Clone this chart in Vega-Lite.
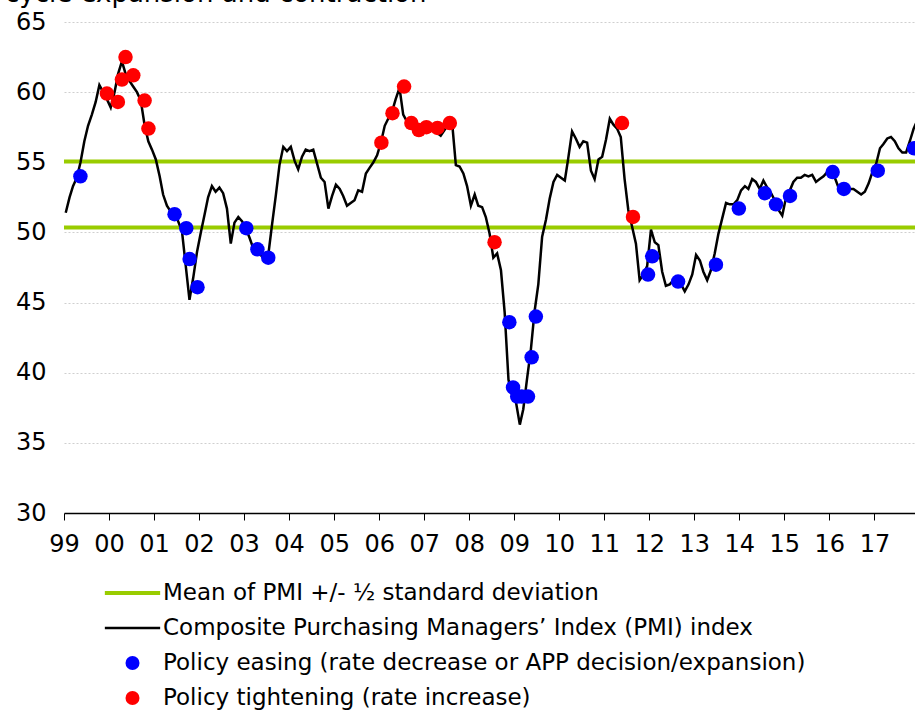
{
  "$schema": "https://vega.github.io/schema/vega-lite/v6.json",
  "width": 851,
  "height": 491,
  "autosize": "none",
  "padding": {"left": 64, "top": 22, "right": 0, "bottom": 197},
  "background": "white",
  "title": {"text": "cycle expansion and contraction", "anchor": "start", "frame": "group", "fontSize": 26, "fontWeight": "normal", "color": "black", "font": "DejaVu Sans", "dx": -59, "dy": 23, "offset": 5, "baseline": "alphabetic"},
  "datasets": {
    "bands": [{"v": 55.05}, {"v": 50.35}],
    "pmi": [
      {"d":"1999-01-15","v":51.4},{"d":"1999-02-15","v":52.5},{"d":"1999-03-15","v":53.3},{"d":"1999-04-15","v":53.9},{"d":"1999-05-15","v":55.0},{"d":"1999-06-15","v":56.5},{"d":"1999-07-15","v":57.6},{"d":"1999-08-15","v":58.4},{"d":"1999-09-15","v":59.3},{"d":"1999-10-15","v":60.5},{"d":"1999-11-15","v":60.0},{"d":"1999-12-15","v":59.5},
      {"d":"2000-01-15","v":58.9},{"d":"2000-02-15","v":60.0},{"d":"2000-03-15","v":61.3},{"d":"2000-04-15","v":62.2},{"d":"2000-05-15","v":61.3},{"d":"2000-06-15","v":60.8},{"d":"2000-07-15","v":60.4},{"d":"2000-08-15","v":60.0},{"d":"2000-09-15","v":59.4},{"d":"2000-10-15","v":57.7},{"d":"2000-11-15","v":56.5},{"d":"2000-12-15","v":55.9},
      {"d":"2001-01-15","v":55.2},{"d":"2001-02-15","v":54.0},{"d":"2001-03-15","v":52.7},{"d":"2001-04-15","v":51.9},{"d":"2001-05-15","v":51.5},{"d":"2001-06-15","v":51.3},{"d":"2001-07-15","v":50.8},{"d":"2001-08-15","v":50.1},{"d":"2001-09-15","v":47.6},{"d":"2001-10-15","v":45.2},{"d":"2001-11-15","v":46.8},{"d":"2001-12-15","v":48.6},
      {"d":"2002-01-15","v":50.0},{"d":"2002-02-15","v":51.3},{"d":"2002-03-15","v":52.5},{"d":"2002-04-15","v":53.3},{"d":"2002-05-15","v":52.9},{"d":"2002-06-15","v":53.2},{"d":"2002-07-15","v":52.8},{"d":"2002-08-15","v":51.7},{"d":"2002-09-15","v":49.2},{"d":"2002-10-15","v":50.7},{"d":"2002-11-15","v":51.1},{"d":"2002-12-15","v":50.8},
      {"d":"2003-01-15","v":50.3},{"d":"2003-02-15","v":49.6},{"d":"2003-03-15","v":48.9},{"d":"2003-04-15","v":48.6},{"d":"2003-05-15","v":48.4},{"d":"2003-06-15","v":48.1},{"d":"2003-07-15","v":48.3},{"d":"2003-08-15","v":50.5},{"d":"2003-09-15","v":52.6},{"d":"2003-10-15","v":54.8},{"d":"2003-11-15","v":56.1},{"d":"2003-12-15","v":55.8},
      {"d":"2004-01-15","v":56.1},{"d":"2004-02-15","v":55.1},{"d":"2004-03-15","v":54.5},{"d":"2004-04-15","v":55.4},{"d":"2004-05-15","v":55.9},{"d":"2004-06-15","v":55.8},{"d":"2004-07-15","v":55.9},{"d":"2004-08-15","v":54.9},{"d":"2004-09-15","v":53.9},{"d":"2004-10-15","v":53.6},{"d":"2004-11-15","v":51.7},{"d":"2004-12-15","v":52.6},
      {"d":"2005-01-15","v":53.4},{"d":"2005-02-15","v":53.1},{"d":"2005-03-15","v":52.6},{"d":"2005-04-15","v":51.9},{"d":"2005-05-15","v":52.1},{"d":"2005-06-15","v":52.3},{"d":"2005-07-15","v":53.0},{"d":"2005-08-15","v":52.9},{"d":"2005-09-15","v":54.2},{"d":"2005-10-15","v":54.6},{"d":"2005-11-15","v":55.0},{"d":"2005-12-15","v":55.5},
      {"d":"2006-01-15","v":56.4},{"d":"2006-02-15","v":57.6},{"d":"2006-03-15","v":58.1},{"d":"2006-04-15","v":58.6},{"d":"2006-05-15","v":59.5},{"d":"2006-06-15","v":60.3},{"d":"2006-07-15","v":58.4},{"d":"2006-08-15","v":57.9},{"d":"2006-09-15","v":57.5},{"d":"2006-10-15","v":57.3},{"d":"2006-11-15","v":57.2},{"d":"2006-12-15","v":57.3},
      {"d":"2007-01-15","v":57.4},{"d":"2007-02-15","v":57.4},{"d":"2007-03-15","v":57.3},{"d":"2007-04-15","v":57.1},{"d":"2007-05-15","v":56.9},{"d":"2007-06-15","v":57.3},{"d":"2007-07-15","v":57.7},{"d":"2007-08-15","v":57.9},{"d":"2007-09-15","v":54.8},{"d":"2007-10-15","v":54.7},{"d":"2007-11-15","v":54.2},{"d":"2007-12-15","v":53.3},
      {"d":"2008-01-15","v":51.9},{"d":"2008-02-15","v":52.7},{"d":"2008-03-15","v":51.9},{"d":"2008-04-15","v":51.8},{"d":"2008-05-15","v":51.1},{"d":"2008-06-15","v":49.9},{"d":"2008-07-15","v":48.2},{"d":"2008-08-15","v":48.5},{"d":"2008-09-15","v":47.3},{"d":"2008-10-15","v":44.3},{"d":"2008-11-15","v":39.5},{"d":"2008-12-15","v":38.4},
      {"d":"2009-01-15","v":37.9},{"d":"2009-02-15","v":36.3},{"d":"2009-03-15","v":37.4},{"d":"2009-04-15","v":39.6},{"d":"2009-05-15","v":41.6},{"d":"2009-06-15","v":44.4},{"d":"2009-07-15","v":46.3},{"d":"2009-08-15","v":49.7},{"d":"2009-09-15","v":50.9},{"d":"2009-10-15","v":52.4},{"d":"2009-11-15","v":53.6},{"d":"2009-12-15","v":54.1},
      {"d":"2010-01-15","v":53.9},{"d":"2010-02-15","v":53.7},{"d":"2010-03-15","v":55.3},{"d":"2010-04-15","v":57.2},{"d":"2010-05-15","v":56.7},{"d":"2010-06-15","v":56.1},{"d":"2010-07-15","v":56.5},{"d":"2010-08-15","v":56.4},{"d":"2010-09-15","v":54.4},{"d":"2010-10-15","v":53.8},{"d":"2010-11-15","v":55.2},{"d":"2010-12-15","v":55.4},
      {"d":"2011-01-15","v":56.6},{"d":"2011-02-15","v":58.1},{"d":"2011-03-15","v":57.7},{"d":"2011-04-15","v":57.4},{"d":"2011-05-15","v":56.8},{"d":"2011-06-15","v":53.8},{"d":"2011-07-15","v":51.6},{"d":"2011-08-15","v":50.4},{"d":"2011-09-15","v":49.2},{"d":"2011-10-15","v":46.6},{"d":"2011-11-15","v":47.0},{"d":"2011-12-15","v":47.6},
      {"d":"2012-01-15","v":50.2},{"d":"2012-02-15","v":49.3},{"d":"2012-03-15","v":49.1},{"d":"2012-04-15","v":47.2},{"d":"2012-05-15","v":46.2},{"d":"2012-06-15","v":46.3},{"d":"2012-07-15","v":46.6},{"d":"2012-08-15","v":46.5},{"d":"2012-09-15","v":46.3},{"d":"2012-10-15","v":45.8},{"d":"2012-11-15","v":46.3},{"d":"2012-12-15","v":47.0},
      {"d":"2013-01-15","v":48.4},{"d":"2013-02-15","v":48.0},{"d":"2013-03-15","v":47.2},{"d":"2013-04-15","v":46.6},{"d":"2013-05-15","v":47.3},{"d":"2013-06-15","v":48.5},{"d":"2013-07-15","v":49.9},{"d":"2013-08-15","v":51.0},{"d":"2013-09-15","v":52.1},{"d":"2013-10-15","v":52.0},{"d":"2013-11-15","v":52.0},{"d":"2013-12-15","v":52.3},
      {"d":"2014-01-15","v":53.0},{"d":"2014-02-15","v":53.3},{"d":"2014-03-15","v":53.1},{"d":"2014-04-15","v":53.8},{"d":"2014-05-15","v":53.6},{"d":"2014-06-15","v":53.1},{"d":"2014-07-15","v":53.7},{"d":"2014-08-15","v":53.2},{"d":"2014-09-15","v":52.8},{"d":"2014-10-15","v":52.3},{"d":"2014-11-15","v":51.6},{"d":"2014-12-15","v":51.2},
      {"d":"2015-01-15","v":52.5},{"d":"2015-02-15","v":53.0},{"d":"2015-03-15","v":53.6},{"d":"2015-04-15","v":53.9},{"d":"2015-05-15","v":53.9},{"d":"2015-06-15","v":54.1},{"d":"2015-07-15","v":54.0},{"d":"2015-08-15","v":54.1},{"d":"2015-09-15","v":53.6},{"d":"2015-10-15","v":53.8},{"d":"2015-11-15","v":54.0},{"d":"2015-12-15","v":54.3},
      {"d":"2016-01-15","v":54.3},{"d":"2016-02-15","v":53.9},{"d":"2016-03-15","v":53.2},{"d":"2016-04-15","v":53.0},{"d":"2016-05-15","v":53.1},{"d":"2016-06-15","v":53.1},{"d":"2016-07-15","v":53.1},{"d":"2016-08-15","v":52.9},{"d":"2016-09-15","v":52.7},{"d":"2016-10-15","v":52.9},{"d":"2016-11-15","v":53.5},{"d":"2016-12-15","v":54.3},
      {"d":"2017-01-15","v":54.9},{"d":"2017-02-15","v":56.0},{"d":"2017-03-15","v":56.3},{"d":"2017-04-15","v":56.7},{"d":"2017-05-15","v":56.8},{"d":"2017-06-15","v":56.5},{"d":"2017-07-15","v":56.0},{"d":"2017-08-15","v":55.7},{"d":"2017-09-15","v":55.7},{"d":"2017-10-15","v":56.5},{"d":"2017-11-15","v":57.4},{"d":"2017-12-15","v":58.0}
    ],
    "policy": [
      {"d":"1999-05-14","v":54.0,"type":"Policy easing (rate decrease or APP decision/expansion)"},
      {"d":"1999-12-15","v":59.9,"type":"Policy tightening (rate increase)"},
      {"d":"2000-03-13","v":59.3,"type":"Policy tightening (rate increase)"},
      {"d":"2000-04-15","v":60.9,"type":"Policy tightening (rate increase)"},
      {"d":"2000-05-14","v":62.5,"type":"Policy tightening (rate increase)"},
      {"d":"2000-07-16","v":61.2,"type":"Policy tightening (rate increase)"},
      {"d":"2000-10-16","v":59.4,"type":"Policy tightening (rate increase)"},
      {"d":"2000-11-16","v":57.4,"type":"Policy tightening (rate increase)"},
      {"d":"2001-06-16","v":51.3,"type":"Policy easing (rate decrease or APP decision/expansion)"},
      {"d":"2001-09-19","v":50.3,"type":"Policy easing (rate decrease or APP decision/expansion)"},
      {"d":"2001-10-16","v":48.1,"type":"Policy easing (rate decrease or APP decision/expansion)"},
      {"d":"2001-12-19","v":46.1,"type":"Policy easing (rate decrease or APP decision/expansion)"},
      {"d":"2003-01-19","v":50.3,"type":"Policy easing (rate decrease or APP decision/expansion)"},
      {"d":"2003-04-19","v":48.8,"type":"Policy easing (rate decrease or APP decision/expansion)"},
      {"d":"2003-07-16","v":48.2,"type":"Policy easing (rate decrease or APP decision/expansion)"},
      {"d":"2006-01-19","v":56.4,"type":"Policy tightening (rate increase)"},
      {"d":"2006-04-19","v":58.5,"type":"Policy tightening (rate increase)"},
      {"d":"2006-07-22","v":60.4,"type":"Policy tightening (rate increase)"},
      {"d":"2006-09-19","v":57.8,"type":"Policy tightening (rate increase)"},
      {"d":"2006-11-19","v":57.3,"type":"Policy tightening (rate increase)"},
      {"d":"2007-01-19","v":57.5,"type":"Policy tightening (rate increase)"},
      {"d":"2007-04-19","v":57.45,"type":"Policy tightening (rate increase)"},
      {"d":"2007-07-28","v":57.8,"type":"Policy tightening (rate increase)"},
      {"d":"2008-07-25","v":49.3,"type":"Policy tightening (rate increase)"},
      {"d":"2008-11-22","v":43.6,"type":"Policy easing (rate decrease or APP decision/expansion)"},
      {"d":"2008-12-22","v":38.95,"type":"Policy easing (rate decrease or APP decision/expansion)"},
      {"d":"2009-01-25","v":38.3,"type":"Policy easing (rate decrease or APP decision/expansion)"},
      {"d":"2009-03-02","v":38.3,"type":"Policy easing (rate decrease or APP decision/expansion)"},
      {"d":"2009-04-22","v":38.3,"type":"Policy easing (rate decrease or APP decision/expansion)"},
      {"d":"2009-05-22","v":41.1,"type":"Policy easing (rate decrease or APP decision/expansion)"},
      {"d":"2009-06-25","v":44.0,"type":"Policy easing (rate decrease or APP decision/expansion)"},
      {"d":"2011-05-25","v":57.8,"type":"Policy tightening (rate increase)"},
      {"d":"2011-08-22","v":51.1,"type":"Policy tightening (rate increase)"},
      {"d":"2011-12-22","v":47.0,"type":"Policy easing (rate decrease or APP decision/expansion)"},
      {"d":"2012-01-25","v":48.3,"type":"Policy easing (rate decrease or APP decision/expansion)"},
      {"d":"2012-08-22","v":46.5,"type":"Policy easing (rate decrease or APP decision/expansion)"},
      {"d":"2013-06-25","v":47.7,"type":"Policy easing (rate decrease or APP decision/expansion)"},
      {"d":"2013-12-28","v":51.7,"type":"Policy easing (rate decrease or APP decision/expansion)"},
      {"d":"2014-07-27","v":52.8,"type":"Policy easing (rate decrease or APP decision/expansion)"},
      {"d":"2014-10-25","v":52.0,"type":"Policy easing (rate decrease or APP decision/expansion)"},
      {"d":"2015-02-16","v":52.6,"type":"Policy easing (rate decrease or APP decision/expansion)"},
      {"d":"2016-01-28","v":54.3,"type":"Policy easing (rate decrease or APP decision/expansion)"},
      {"d":"2016-04-28","v":53.1,"type":"Policy easing (rate decrease or APP decision/expansion)"},
      {"d":"2017-01-28","v":54.4,"type":"Policy easing (rate decrease or APP decision/expansion)"},
      {"d":"2017-11-19","v":56.0,"type":"Policy easing (rate decrease or APP decision/expansion)"}
    ]
  },
  "layer": [
    {
      "data": {"name": "bands"},
      "mark": {"type": "rule", "color": "#99cc00", "strokeWidth": 4},
      "encoding": {"y": {"field": "v", "type": "quantitative", "title": null}}
    },
    {
      "data": {"name": "pmi"},
      "mark": {"type": "line", "color": "black", "strokeWidth": 2.5, "clip": true},
      "encoding": {
        "x": {"field": "d", "type": "temporal", "title": null,
          "scale": {"type": "utc", "domain": [{"year": 1999, "month": 1, "date": 1, "utc": true}, {"year": 2017, "month": 11, "date": 26, "utc": true}], "nice": false},
          "axis": {"format": "%y", "tickCount": {"interval": "year", "step": 1}, "labelFlush": false, "labelOverlap": false, "labelBound": false, "grid": false}},
        "y": {"field": "v", "type": "quantitative", "title": null,
          "scale": {"domain": [30, 65], "nice": false, "zero": false},
          "axis": {"values": [30, 35, 40, 45, 50, 55, 60, 65]}}
      }
    },
    {
      "data": {"name": "policy"},
      "mark": {"type": "point", "filled": true, "opacity": 1, "size": 210, "strokeWidth": 0},
      "encoding": {
        "x": {"field": "d", "type": "temporal", "title": null},
        "y": {"field": "v", "type": "quantitative", "title": null},
        "color": {"field": "type", "type": "nominal",
          "scale": {"domain": ["Mean of PMI +/- ½ standard deviation", "Composite Purchasing Managers’ Index (PMI) index", "Policy easing (rate decrease or APP decision/expansion)", "Policy tightening (rate increase)"], "range": ["#99cc00", "#000000", "#0000ff", "#ff0000"]},
          "legend": {"title": null, "orient": "none", "legendX": 57, "legendY": 559.5, "direction": "vertical", "labelFontSize": 23, "labelFont": "DejaVu Sans", "labelColor": "black", "labelLimit": 0, "symbolSize": 196, "symbolStrokeWidth": 0, "labelOffset": 19, "rowPadding": 11, "padding": 0, "symbolOpacity": 1}},
        "shape": {"field": "type", "type": "nominal",
          "scale": {"domain": ["Mean of PMI +/- ½ standard deviation", "Composite Purchasing Managers’ Index (PMI) index", "Policy easing (rate decrease or APP decision/expansion)", "Policy tightening (rate increase)"], "range": ["M-3.95,-0.3H3.95V0.3H-3.95Z", "M-3.95,-0.17H3.95V0.17H-3.95Z", "circle", "circle"]},
          "legend": {"title": null, "orient": "none", "legendX": 57, "legendY": 559.5, "direction": "vertical", "labelFontSize": 23, "labelFont": "DejaVu Sans", "labelColor": "black", "labelLimit": 0, "symbolSize": 196, "symbolStrokeWidth": 0, "labelOffset": 19, "rowPadding": 11, "padding": 0, "symbolOpacity": 1}}
      }
    }
  ],
  "config": {
    "font": "DejaVu Sans",
    "view": {"stroke": null},
    "axis": {"labelFont": "DejaVu Sans", "labelColor": "black", "labelFontSize": 24, "title": null},
    "axisX": {"domainColor": "black", "domainWidth": 1.5, "tickColor": "black", "tickSize": 7, "tickWidth": 1, "grid": false, "labelPadding": 12},
    "axisY": {"domain": false, "ticks": false, "grid": true, "gridColor": "#cfcfcf", "gridDash": [2, 2], "gridWidth": 1, "labelPadding": 18}
  }
}
